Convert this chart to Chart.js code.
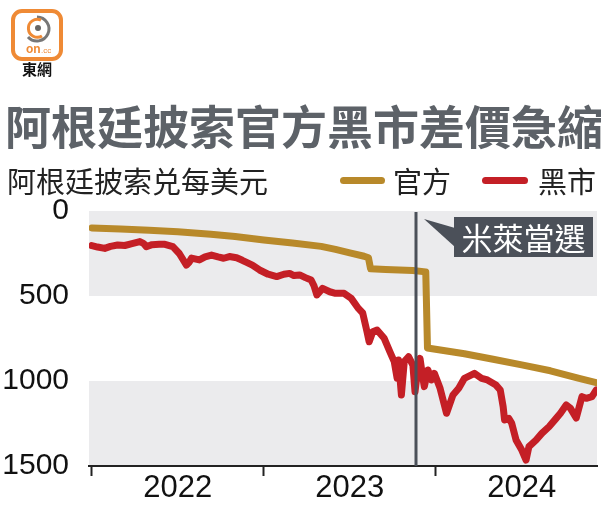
<!DOCTYPE html>
<html>
<head>
<meta charset="utf-8">
<script src="https://cdn.jsdelivr.net/npm/chart.js@4"></script>
<style>
  body { margin: 0; background: #fff; }
  #wrap { position: relative; width: 609px; height: 508px; overflow: hidden; font-family: "Noto Sans CJK TC", "Noto Sans", sans-serif; }
  #myChart { position: absolute; left: 0; top: 0; }
  .logo { position: absolute; left: 11px; top: 9px; }
  .logoTxt { position: absolute; left: 22px; top: 60px; font-size: 15px; font-weight: bold; color: #111; line-height: 18px; }
  .title { position: absolute; left: 5px; top: 98px; font-size: 46px; font-weight: bold; color: #5d6268; line-height: 52px; white-space: nowrap; }
  .sub { position: absolute; left: 7px; top: 162px; font-size: 29px; color: #222; line-height: 36px; white-space: nowrap; }
  .leg { position: absolute; top: 162px; font-size: 29px; color: #222; line-height: 36px; white-space: nowrap; }
  .sw { position: absolute; height: 7px; border-radius: 4px; top: 177px; }
</style>
</head>
<body>
<div id="wrap">
  <canvas id="myChart" width="609" height="508"></canvas>
  <svg class="logo" width="52" height="52" viewBox="0 0 52 52">
    <rect x="2" y="2" width="48" height="48" rx="9" fill="#fff" stroke="#ef8a35" stroke-width="4"/>
    <path d="M 26 8 A 12 12 0 1 1 17 28" fill="none" stroke="#777" stroke-width="3"/>
    <path d="M 30 11 A 9 9 0 1 0 31 27" fill="none" stroke="#ef8a35" stroke-width="3"/>
    <circle cx="27" cy="19" r="3" fill="#666"/>
    <text x="15" y="44" font-family="Liberation Sans" font-weight="bold" font-size="12" fill="#ef8a35">on</text>
    <text x="30" y="44" font-family="Liberation Sans" font-size="8" fill="#ef8a35">.cc</text>
  </svg>
  <div class="logoTxt">東網</div>
  <div class="title">阿根廷披索官方黑市差價急縮</div>
  <div class="sub">阿根廷披索兑每美元</div>
  <div class="sw" style="left:340px;width:45px;background:#b8892a"></div>
  <div class="leg" style="left:393px">官方</div>
  <div class="sw" style="left:482px;width:46px;background:#c41f26"></div>
  <div class="leg" style="left:538px">黑市</div>
</div>
<script>
// months counted from Jan 2022
var officialMonths = [0, 2, 4, 6, 8.3, 10, 12, 14, 16, 17, 18, 19, 19.3, 19.45, 20.5, 22.4, 23.3, 23.42, 26, 28, 30, 32, 34, 35.2];
var officialRate = [100, 106, 113, 122, 137, 150, 170, 188, 208, 226, 246, 266, 275, 340, 344, 350, 358, 806, 840, 872, 905, 940, 985, 1010];

var blackMonths = [0, 0.4, 0.9, 1.3, 1.8, 2.3, 2.8, 3.35, 3.6, 3.8, 4.2, 4.7, 5.1, 5.65, 6.1, 6.6, 6.8, 6.95, 7.5, 7.9, 8.35, 8.8, 9.2, 9.6, 10.1, 10.5, 10.8, 11.2, 11.7, 12.3, 12.9, 13.4, 13.8, 14.1, 14.5, 14.9, 15.3, 15.5, 15.7, 16.1, 16.6, 17.0, 17.6, 18.1, 18.6, 18.9, 19.2, 19.35, 19.6, 19.9, 20.4, 20.8, 21.1, 21.3, 21.4, 21.6, 21.8, 22.1, 22.4, 22.55, 22.7, 22.9, 23.1, 23.2, 23.45, 23.7, 23.9, 24.3, 24.75, 25.2, 25.6, 26.0, 26.7, 27.2, 27.6, 28.2, 28.5, 28.7, 28.8, 29.1, 29.3, 29.6, 30.0, 30.3, 30.5, 31.0, 31.4, 31.9, 32.4, 32.7, 33.1, 33.4, 33.8, 34.2, 34.5, 34.9, 35.2];
var blackRate = [204, 212, 220, 208, 200, 203, 192, 180, 190, 210, 198, 196, 196, 210, 250, 318, 300, 277, 288, 270, 259, 270, 278, 268, 275, 290, 302, 318, 347, 372, 386, 372, 367, 380, 376, 392, 406, 440, 494, 455, 475, 484, 484, 514, 573, 600, 710, 769, 710, 700, 749, 828, 886, 984, 876, 1082, 886, 857, 906, 1063, 960, 867, 984, 1033, 935, 994, 955, 1043, 1190, 1082, 1043, 984, 955, 984, 994, 1024, 1053, 1151, 1229, 1220, 1249, 1347, 1406, 1465, 1386, 1347, 1308, 1269, 1220, 1190, 1141, 1161, 1218, 1092, 1102, 1092, 1053];

var yearLabels = ['2022', '2023', '2024'];
var yearMid = [6, 18, 30];
var yearStart = [0, 12, 24];
var yTicks = [0, 500, 1000, 1500];
var electionMonth = 22.6;
var electionLabel = '米萊當選';

function pts(xs, ys) {
  return xs.map(function (x, i) { return { x: x, y: ys[i] }; });
}

var bands = {
  id: 'bands',
  beforeDraw: function (chart) {
    var c = chart.ctx, a = chart.chartArea, y = chart.scales.y;
    c.save();
    c.fillStyle = '#ebebed';
    [[0, 500], [1000, 1500]].forEach(function (b) {
      var t = y.getPixelForValue(b[0]), bt = y.getPixelForValue(b[1]);
      c.fillRect(a.left, t, a.right - a.left, bt - t);
    });
    c.restore();
  }
};

var marker = {
  id: 'marker',
  afterDatasetsDraw: function (chart) {
    var c = chart.ctx, a = chart.chartArea;
    var lx = Math.round(chart.scales.x.getPixelForValue(electionMonth));
    c.save();
    c.strokeStyle = '#4b5059';
    c.lineWidth = 3;
    c.beginPath();
    c.moveTo(lx, a.top + 1);
    c.lineTo(lx, a.bottom);
    c.stroke();
    // label box with pointer
    var bx = lx + 38, by = a.top + 6, bw = 139, bh = 40;
    c.fillStyle = '#4b5059';
    c.fillRect(bx, by, bw, bh);
    c.beginPath();
    c.moveTo(lx + 8, a.top + 8);
    c.lineTo(bx + 1, by + 11);
    c.lineTo(bx + 1, by + 30);
    c.closePath();
    c.fill();
    c.fillStyle = '#fff';
    c.font = '31px "Noto Sans CJK TC"';
    c.textAlign = 'center';
    c.textBaseline = 'middle';
    c.fillText(electionLabel, bx + bw / 2, by + bh / 2 + 1);
    c.restore();
  }
};

var ctx = document.getElementById('myChart');

var myChart = new Chart(ctx, {
  type: 'line',
  data: {
    datasets: [{
      label: '官方',
      data: pts(officialMonths, officialRate),
      borderColor: '#b8892a',
      borderWidth: 7,
      pointRadius: 0,
      borderJoinStyle: 'round',
      borderCapStyle: 'round'
    }, {
      label: '黑市',
      data: pts(blackMonths, blackRate),
      borderColor: '#c41f26',
      borderWidth: 7,
      pointRadius: 0,
      borderJoinStyle: 'round',
      borderCapStyle: 'round'
    }]
  },
  options: {
    responsive: false,
    animation: false,
    layout: { padding: { top: 211, right: 12, left: 0, bottom: 0 } },
    plugins: {
      legend: { display: false },
      tooltip: { enabled: false }
    },
    scales: {
      x: {
        type: 'linear',
        min: -0.2,
        max: 35.25,
        afterBuildTicks: function (axis) {
          axis.ticks = yearStart.concat(yearMid).sort(function (a, b) { return a - b; })
            .map(function (v) { return { value: v }; });
        },
        afterFit: function (axis) { axis.height = 42; },
        ticks: {
          autoSkip: false,
          maxRotation: 0,
          padding: -6,
          color: '#111',
          font: { family: 'Liberation Sans', size: 31 },
          callback: function (v) {
            var i = yearMid.indexOf(v);
            return i >= 0 ? yearLabels[i] : '';
          }
        },
        grid: {
          drawOnChartArea: false,
          drawTicks: true,
          tickLength: 10,
          tickWidth: 2,
          tickColor: function (c) {
            return c.tick && yearStart.indexOf(c.tick.value) >= 0 ? '#222' : 'rgba(0,0,0,0)';
          }
        },
        border: { display: true, color: '#222', width: 2 }
      },
      y: {
        reverse: true,
        min: 0,
        max: 1500,
        afterBuildTicks: function (axis) {
          axis.ticks = yTicks.map(function (v) { return { value: v }; });
        },
        afterFit: function (axis) { axis.width = 89; },
        ticks: {
          padding: 12,
          color: '#111',
          font: { family: 'Liberation Sans', size: 30 },
          callback: function (v) { return String(v); }
        },
        grid: { display: false },
        border: { display: false }
      }
    }
  },
  plugins: [bands, marker]
});
</script>
</body>
</html>
